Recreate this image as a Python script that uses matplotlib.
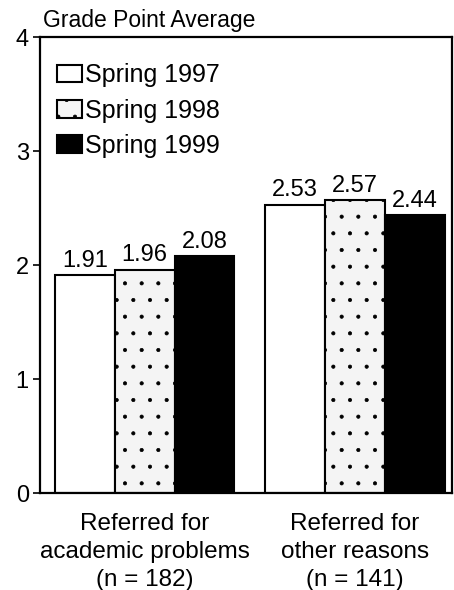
import matplotlib.pyplot as plt
import numpy as np

plt.rcParams['font.family'] = ['Liberation Sans', 'DejaVu Sans']
plt.rcParams['hatch.linewidth'] = 0.5

groups = ['Referred for\nacademic problems\n(n = 182)', 'Referred for\nother reasons\n(n = 141)']
seasons = ['Spring 1997', 'Spring 1998', 'Spring 1999']
gpa_1997 = [1.91, 2.53]
gpa_1998 = [1.96, 2.57]
gpa_1999 = [2.08, 2.44]

fig = plt.figure(figsize=(4.54, 5.90), dpi=100)
ax = fig.add_axes([0.088, 0.164, 0.907, 0.773])

x = np.arange(len(groups))
w = 0.284
styles = [dict(facecolor='white', edgecolor='black'),
          dict(facecolor='#f4f4f4', edgecolor='black', hatch='.'),
          dict(facecolor='black', edgecolor='black')]

for i, (vals, name, st) in enumerate(zip([gpa_1997, gpa_1998, gpa_1999], seasons, styles)):
    bars = ax.bar(x + (i - 1) * w, vals, w, label=name, linewidth=1.5, **st)
    for b, v in zip(bars, vals):
        ax.text(b.get_x() + b.get_width() / 2, v + 0.03, f'{v:.2f}',
                ha='center', va='bottom', fontsize=17)

ax.set_xlim(-0.498, 1.46)
ax.set_ylim(0, 4)
ax.set_yticks([0, 1, 2, 3, 4])
ax.set_xticks(x)
ax.set_xticklabels(groups, fontsize=17.5, linespacing=1.36)
ax.tick_params(axis='x', length=0, pad=14)
ax.tick_params(axis='y', labelsize=17, length=5, width=1.2, direction='out', pad=3)
for s in ax.spines.values():
    s.set_linewidth(1.6)

fig.text(0.095, 0.966, 'Grade Point Average', fontsize=16.5, ha='left', va='center')

# legend sits inside the plot area, top-left, no frame
ax.legend(loc='upper left', bbox_to_anchor=(-0.022, 1.0), frameon=False, fontsize=18,
          handlelength=1.0, handleheight=0.7, handletextpad=0.1, labelspacing=0.45,
          borderaxespad=0.65)

fig.savefig('out.png', dpi=100)
